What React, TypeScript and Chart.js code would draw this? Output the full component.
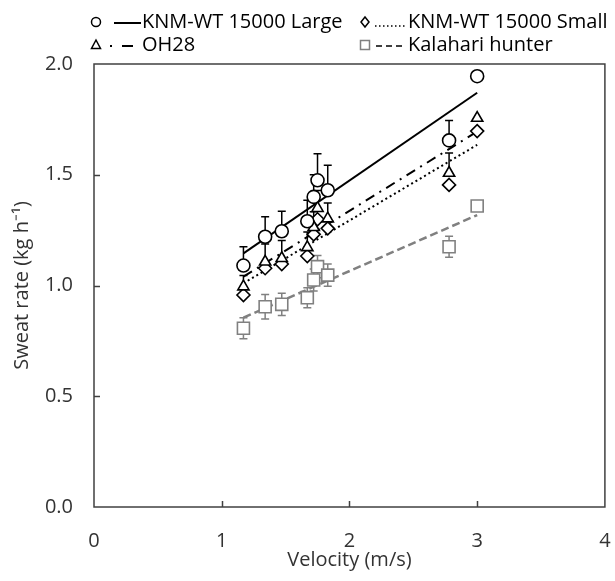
import React, { useEffect, useRef } from 'react';
import { Chart, registerables } from 'chart.js';
Chart.register(...registerables);

// ---- data ----
const velocity = [1.17, 1.34, 1.47, 1.67, 1.72, 1.75, 1.83, 2.78, 3.0];
const largeRate = [1.09, 1.22, 1.245, 1.29, 1.4, 1.475, 1.43, 1.655, 1.945];
const largeErr = [0.085, 0.09, 0.09, 0.095, 0.1, 0.12, 0.113, 0.09, 0];
const oh28Rate = [0.995, 1.107, 1.123, 1.172, 1.263, 1.349, 1.302, 1.508, 1.756];
const oh28Err = [0.05, 0.08, 0.08, 0.07, 0.07, 0.08, 0.07, 0.09, 0];
const smallRate = [0.957, 1.078, 1.097, 1.133, 1.231, 1.299, 1.258, 1.454, 1.697];
const kalahariRate = [0.807, 0.904, 0.915, 0.945, 1.025, 1.085, 1.047, 1.175, 1.359];
const kalahariErr = [0.047, 0.055, 0.05, 0.045, 0.05, 0.05, 0.05, 0.047, 0];
const trendX = [1.17, 3.0];
const largeTrend = [1.145, 1.87];
const oh28Trend = [1.04, 1.695];
const smallTrend = [1.01, 1.635];
const kalahariTrend = [0.855, 1.318];
const xTickValues = [1, 2, 3];
const yTickValues = [0.5, 1, 1.5];
const legendLabels = ['KNM-WT 15000 Large', 'KNM-WT 15000 Small', 'OH28', 'Kalahari hunter'];

const FONT = "'Open Sans', sans-serif";
const TEXT = '#333333';
const GRAY = '#808080';

const pts = (ys: number[]) => velocity.map((v, i) => ({ x: v, y: ys[i] }));
const trend = (ys: number[]) => trendX.map((v, i) => ({ x: v, y: ys[i] }));

const frameAndErrors = {
  id: 'frameAndErrors',
  beforeDatasetsDraw(chart: any) {
    const { ctx, scales } = chart;
    const xs = scales.x, ys = scales.y;
    ctx.save();
    chart.data.datasets.forEach((ds: any) => {
      if (!ds.errUp && !ds.errDown) return;
      ctx.strokeStyle = ds.errColor;
      ctx.lineWidth = 1.5;
      ctx.setLineDash([]);
      ds.data.forEach((p: any, i: number) => {
        const px = xs.getPixelForValue(p.x);
        const up = ds.errUp ? ds.errUp[i] : 0;
        const dn = ds.errDown ? ds.errDown[i] : 0;
        if (!up && !dn) return;
        const y0 = ys.getPixelForValue(p.y - dn);
        const y1 = ys.getPixelForValue(p.y + up);
        ctx.beginPath();
        ctx.moveTo(px, y0);
        ctx.lineTo(px, y1);
        if (up) { ctx.moveTo(px - 4, y1); ctx.lineTo(px + 4, y1); }
        if (dn) { ctx.moveTo(px - 4, y0); ctx.lineTo(px + 4, y0); }
        ctx.stroke();
      });
    });
    ctx.restore();
  },
  afterDraw(chart: any) {
    const { ctx, chartArea: a, scales } = chart;
    ctx.save();
    ctx.strokeStyle = '#404040';
    ctx.lineWidth = 1.5;
    ctx.setLineDash([]);
    ctx.strokeRect(a.left, a.top, a.right - a.left, a.bottom - a.top);
    ctx.beginPath();
    xTickValues.forEach((v) => {
      const px = Math.round(scales.x.getPixelForValue(v)) + 0.5;
      ctx.moveTo(px, a.bottom);
      ctx.lineTo(px, a.bottom - 6);
    });
    yTickValues.forEach((v) => {
      const py = Math.round(scales.y.getPixelForValue(v)) + 0.5;
      ctx.moveTo(a.left, py);
      ctx.lineTo(a.left + 6, py);
    });
    ctx.stroke();

    // legend
    const drawMarker = (kind: string, x: number, y: number, color: string) => {
      ctx.setLineDash([]);
      ctx.strokeStyle = color;
      ctx.lineWidth = 1.5;
      ctx.beginPath();
      if (kind === 'circle') ctx.arc(x, y, 4.5, 0, Math.PI * 2);
      if (kind === 'diamond') { ctx.moveTo(x, y - 5); ctx.lineTo(x + 4, y); ctx.lineTo(x, y + 5); ctx.lineTo(x - 4, y); ctx.closePath(); }
      if (kind === 'triangle') { ctx.moveTo(x, y - 5); ctx.lineTo(x + 4.5, y + 3.5); ctx.lineTo(x - 4.5, y + 3.5); ctx.closePath(); }
      if (kind === 'square') ctx.rect(x - 4.5, y - 4.5, 9, 9);
      ctx.stroke();
    };
    const drawSample = (dash: number[], x0: number, x1: number, y: number, color: string, w: number) => {
      ctx.setLineDash(dash);
      ctx.strokeStyle = color;
      ctx.lineWidth = w;
      ctx.beginPath();
      ctx.moveTo(x0, y);
      ctx.lineTo(x1, y);
      ctx.stroke();
    };
    ctx.font = `20px ${FONT}`;
    ctx.fillStyle = '#000';
    ctx.textBaseline = 'middle';
    ctx.textAlign = 'left';
    const r1 = 22, r2 = 45;
    drawMarker('circle', 96, r1, '#000');
    drawSample([], 114, 141, r1 + 1, '#000', 2);
    ctx.fillText(legendLabels[0], 142, r1);
    drawMarker('diamond', 365, r1, '#000');
    drawSample([1.5, 2.5], 375, 406, r1 + 4, '#000', 1.5);
    ctx.fillText(legendLabels[1], 408, r1);
    drawMarker('triangle', 96, r2, '#000');
    drawSample([], 110, 112, r2 + 1, '#000', 2);
    drawSample([], 122, 133, r2 + 1, '#000', 2);
    ctx.fillText(legendLabels[2], 142, r2);
    drawMarker('square', 365, r2, GRAY);
    drawSample([6, 4], 376, 406, r2 + 1, '#000', 1.5);
    ctx.fillText(legendLabels[3], 408, r2);
    ctx.restore();
  },
};

export default function App() {
  const ref = useRef<HTMLCanvasElement>(null);
  useEffect(() => {
    if (!ref.current) return;
    const markerBase = { showLine: false, borderWidth: 1.6, pointBorderWidth: 1.6, pointBackgroundColor: '#ffffff' };
    const chart = new Chart(ref.current, {
      type: 'scatter',
      data: {
        datasets: [
          { ...markerBase, label: legendLabels[0], data: pts(largeRate), pointStyle: 'circle', pointRadius: 6.5, borderColor: '#000', pointBorderColor: '#000', errUp: largeErr, errColor: '#000' } as any,
          { ...markerBase, label: legendLabels[2], data: pts(oh28Rate), pointStyle: 'triangle', pointRadius: 6.5, borderColor: '#000', pointBorderColor: '#000', errUp: oh28Err, errColor: '#000' } as any,
          { ...markerBase, label: legendLabels[1], data: pts(smallRate), pointStyle: 'rectRot', pointRadius: 6.5, borderColor: '#000', pointBorderColor: '#000' } as any,
          { ...markerBase, label: legendLabels[3], data: pts(kalahariRate), pointStyle: 'rect', pointRadius: 8.5, borderColor: GRAY, pointBorderColor: GRAY, errUp: kalahariErr, errDown: kalahariErr, errColor: GRAY } as any,
          { type: 'line', data: trend(largeTrend), borderColor: '#000', borderWidth: 2, pointRadius: 0, showLine: true } as any,
          { type: 'line', data: trend(oh28Trend), borderColor: '#000', borderWidth: 2, borderDash: [10, 6, 2, 6], pointRadius: 0, showLine: true } as any,
          { type: 'line', data: trend(smallTrend), borderColor: '#000', borderWidth: 2, borderDash: [2, 3], pointRadius: 0, showLine: true } as any,
          { type: 'line', data: trend(kalahariTrend), borderColor: GRAY, borderWidth: 2.5, borderDash: [8, 4], pointRadius: 0, showLine: true } as any,
        ],
      },
      options: {
        responsive: false,
        animation: false,
        layout: { padding: { top: 64, right: 6, left: 0, bottom: 0 } },
        plugins: { legend: { display: false }, tooltip: { enabled: false } },
        scales: {
          x: {
            type: 'linear', min: 0, max: 4,
            grid: { display: false, drawTicks: false },
            border: { display: false },
            ticks: { stepSize: 1, padding: 22, color: TEXT, font: { family: FONT, size: 20 } },
            title: { display: true, text: 'Velocity (m/s)', color: TEXT, font: { family: FONT, size: 20 }, padding: { top: 0, bottom: 9 } },
            afterFit: (s: any) => { s.height = 74; s.paddingLeft = 0; s.paddingRight = 0; },
          },
          y: {
            type: 'linear', min: 0, max: 2,
            grid: { display: false, drawTicks: false },
            border: { display: false },
            ticks: { stepSize: 0.5, padding: 21, color: TEXT, font: { family: FONT, size: 20 }, callback: (v: any) => Number(v).toFixed(1) },
            title: { display: true, text: 'Sweat rate (kg h\u207B\u00B9)', color: TEXT, font: { family: FONT, size: 20 }, padding: { top: 10, bottom: 0 } },
            afterFit: (s: any) => { s.width = 94; s.paddingTop = 0; s.paddingBottom = 0; },
          },
        },
      },
      plugins: [frameAndErrors],
    });
    return () => chart.destroy();
  }, []);
  return (
    <div style={{ position: 'absolute', left: 0, top: 0, width: 615, height: 581, background: '#fff' }}>
      <canvas ref={ref} width={615} height={581} style={{ display: 'block' }} />
    </div>
  );
}
